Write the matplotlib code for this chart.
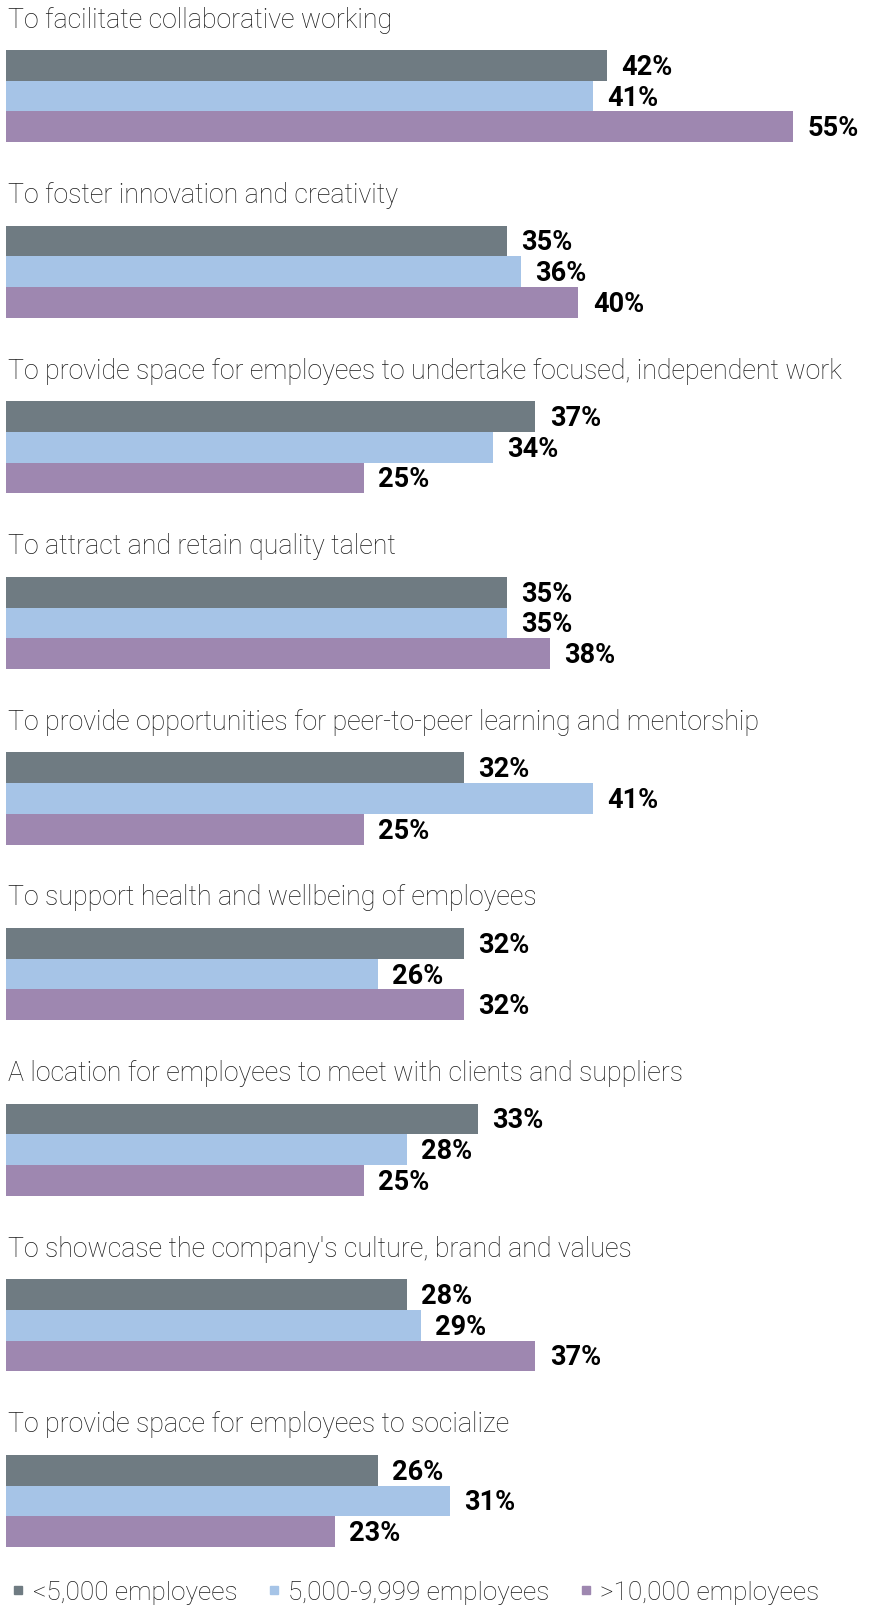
import numpy as np
import matplotlib.pyplot as plt
from matplotlib.lines import Line2D

categories = [
    "To facilitate collaborative working",
    "To foster innovation and creativity",
    "To provide space for employees to undertake focused, independent work",
    "To attract and retain quality talent",
    "To provide opportunities for peer-to-peer learning and mentorship",
    "To support health and wellbeing of employees",
    "A location for employees to meet with clients and suppliers",
    "To showcase the company's culture, brand and values",
    "To provide space for employees to socialize",
]
series_names = ["<5,000 employees", "5,000-9,999 employees", ">10,000 employees"]
small = [42, 35, 37, 35, 32, 32, 33, 28, 26]
medium = [41, 36, 34, 35, 41, 26, 28, 29, 31]
large = [55, 40, 25, 38, 25, 32, 25, 37, 23]
colors = ["#6f7b82", "#a6c4e7", "#9e87b0"]

W, H = 875, 1608
fig = plt.figure(figsize=(W / 100, H / 100), dpi=100)
ax = fig.add_axes([0, 0, 1, 1])

px_per_pct = 14.31
x0 = 6
ax.set_xlim(-x0 / px_per_pct, (W - x0) / px_per_pct)
ax.set_ylim(H, 0)
ax.axis("off")

top0 = 51
gap = 175.6
bh = 30.7

fam = ["Roboto", "DejaVu Sans"]
for i, cat in enumerate(categories):
    gtop = top0 + i * gap
    ax.text(0.15, gtop - 31, cat, fontsize=19.3, color="#1a1a1a", va="center", ha="left",
            family=fam, fontweight="light")
    for j, vals in enumerate([small, medium, large]):
        y = gtop + j * bh
        ax.barh(y, vals[i], height=bh, align="edge", color=colors[j], edgecolor="none")
        ax.text(vals[i] + 1.0, y + bh / 2 + 1, f"{vals[i]}%", fontsize=19.5, fontweight="bold",
                family=fam, va="center", ha="left", color="black")

# legend centred at about y = 1593 px from the top
handles = [Line2D([], [], marker="s", linestyle="none", markersize=6, color=c) for c in colors]
leg = fig.legend(handles, series_names, loc="center left", bbox_to_anchor=(0.012, 1 - 1593 / H), ncol=3,
                 frameon=False, handletextpad=0.25, columnspacing=1.1, handlelength=0.6,
                 borderaxespad=0, borderpad=0,
                 prop=dict(family=fam, weight="light", size=18.8))
for t in leg.get_texts():
    t.set_color("#1a1a1a")

fig.savefig("out.png", dpi=100)
